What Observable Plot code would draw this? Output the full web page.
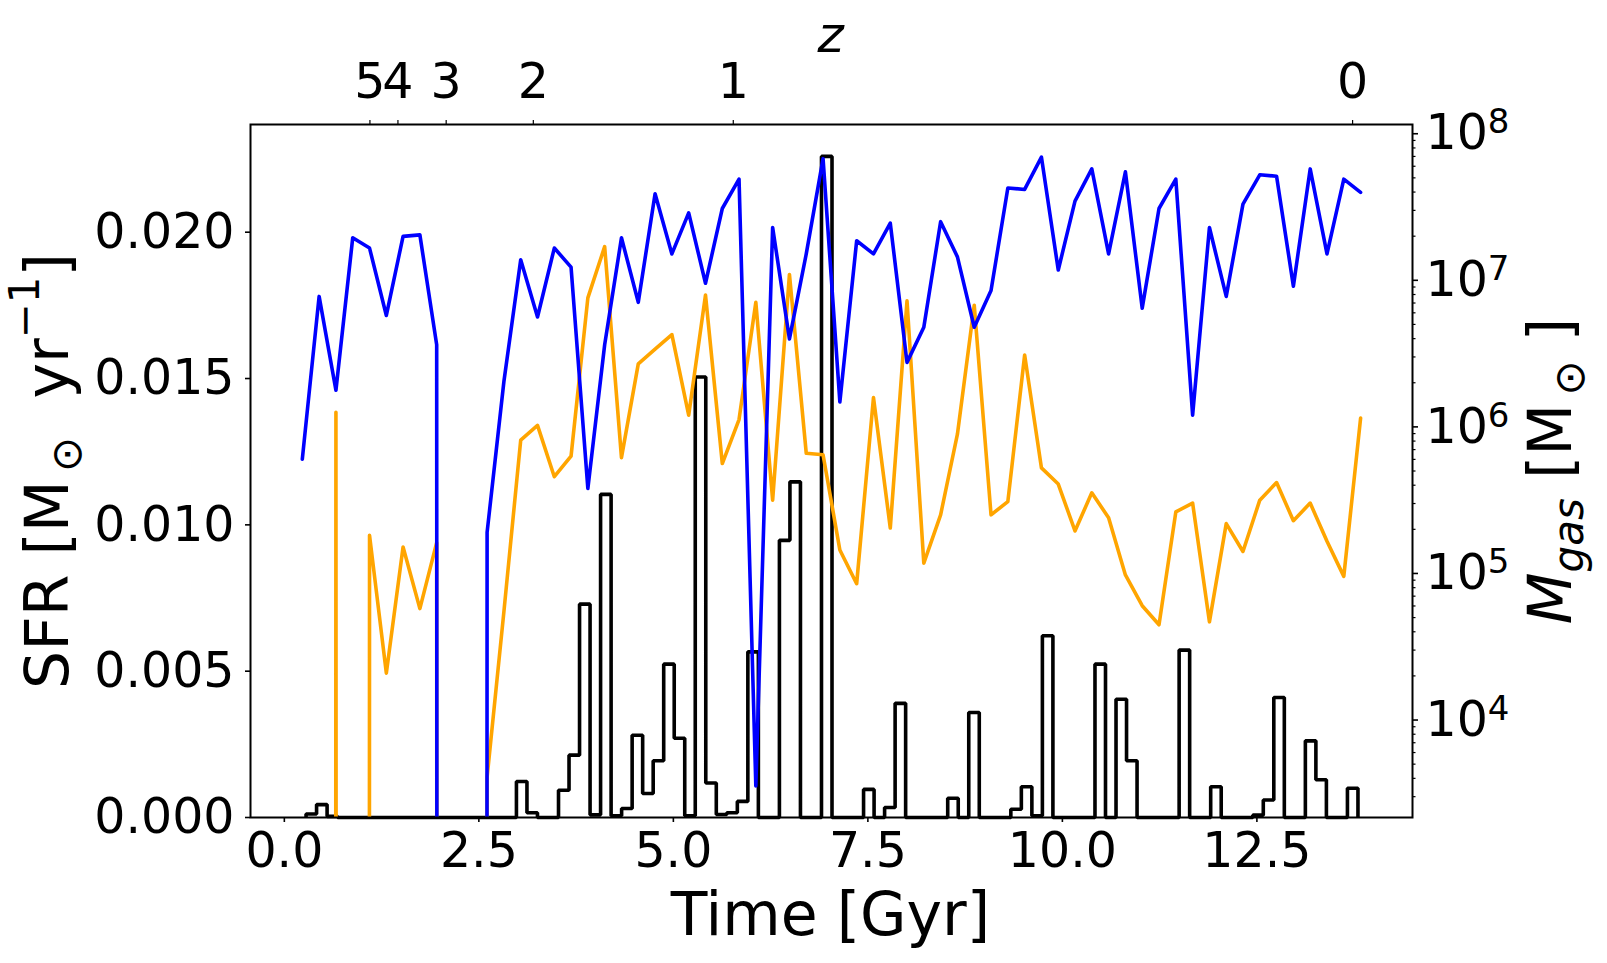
<!DOCTYPE html>
<html><head><meta charset="utf-8">
<script src="https://cdn.jsdelivr.net/npm/d3@7"></script>
<script src="https://cdn.jsdelivr.net/npm/@observablehq/plot@0.6"></script>
<style>
body{margin:0;background:#fff;}
#chart{position:relative;width:1607px;height:963px;font-family:"DejaVu Sans";}
#chart svg{position:absolute;left:0;top:0;overflow:visible;}
</style></head><body><div id="chart"></div>
<script>
// ---------- data ----------
const gasTime = [0.231,0.447,0.663,0.879,1.095,1.311,1.526,1.742,1.958,2.174,
  2.390,2.606,2.822,3.038,3.254,3.470,3.685,3.901,4.117,4.333,
  4.549,4.765,4.981,5.197,5.413,5.629,5.844,6.060,6.276,6.492,
  6.708,6.924,7.140,7.356,7.572,7.788,8.003,8.219,8.435,8.651,
  8.867,9.083,9.299,9.515,9.731,9.947,10.162,10.378,10.594,10.810,
  11.026,11.242,11.458,11.674,11.890,12.106,12.321,12.537,12.753,12.969,
  13.185,13.401,13.617,13.833];
// log10(M_gas / Msun); null = no gas
const gasLogBlue = [5.78,6.89,6.25,7.29,7.22,6.76,7.30,7.31,6.56,null,
  null,5.28,6.31,7.14,6.75,7.22,7.09,5.58,6.56,7.29,
  6.85,7.59,7.18,7.46,6.98,7.49,7.69,3.55,7.36,6.60,
  7.18,7.83,6.17,7.27,7.18,7.39,6.44,6.68,7.40,7.16,
  6.68,6.93,7.63,7.62,7.84,7.07,7.54,7.76,7.18,7.74,
  6.81,7.49,7.69,6.08,7.36,6.89,7.52,7.72,7.71,6.96,
  7.76,7.18,7.69,7.60];
const gasLogOrange = [null,null,6.10,null,5.26,4.32,5.18,4.76,5.21,null,
  null,3.61,4.74,5.91,6.01,5.66,5.80,6.88,7.23,5.79,
  6.43,6.53,6.63,6.08,6.90,5.75,6.05,6.85,5.50,7.04,
  5.82,5.81,5.16,4.93,6.20,5.31,6.86,5.07,5.40,5.95,
  6.83,5.40,5.49,6.49,5.72,5.61,5.29,5.55,5.38,4.99,
  4.78,4.65,5.42,5.48,4.67,5.34,5.15,5.50,5.62,5.36,
  5.48,5.22,4.98,6.06];
// SFR histogram (Msun/yr), 100 bins
const sfrBinStart = 0.279, sfrBinWidth = 0.1352;
const sfrValues = [0.00012,0.00044,0.00004,0,0,0,0,0,0,0,
  0,0,0,0,0,0,0,0,0,0,
  0.00123,0.00016,0,0,0.00093,0.00213,0.00729,0.00009,0.01104,0.00006,
  0.00031,0.00281,0.00082,0.00194,0.00524,0.00271,0.00006,0.01505,0.00118,0.00010,
  0.00016,0.00055,0.00566,0,0,0.00947,0.01147,0,0,0.02259,
  0,0,0,0.00096,0,0.00034,0.00390,0,0,0,
  0,0.00066,0,0.00359,0,0,0,0.00028,0.00105,0.00006,
  0.00621,0,0,0,0,0.00524,0,0.00404,0.00194,0,
  0,0,0,0.00572,0,0,0.00105,0,0,0,
  0.00008,0.00060,0.00410,0,0,0.00262,0.00129,0,0,0.00100];
const sfrTicks = [0, 0.005, 0.010, 0.015, 0.020];
const timeTicks = [0, 2.5, 5, 7.5, 10, 12.5];
const gasTicks = [1e4, 1e5, 1e6, 1e7, 1e8];
const zLabels = ["5","4","3","2","1","0"];
const zTimes = [1.10, 1.46, 2.08, 3.20, 5.77, 13.73];

// ---------- layout ----------
const W = 1607, H = 963;
const margins = {marginLeft: 250, marginRight: 195, marginTop: 124, marginBottom: 146};
const xDomain = [-0.435, 14.5];
const sfrDomain = [0, 0.02368];
const gasDomain = [Math.pow(10, 3.335), Math.pow(10, 8.063)];
const FONT = '"DejaVu Sans", sans-serif';

const edges = sfrValues.map((_, k) => sfrBinStart + k * sfrBinWidth);
edges.push(sfrBinStart + sfrValues.length * sfrBinWidth);
const last = sfrValues.length - 1;
const histPts = [{t: edges[0], v: 0}]
  .concat(sfrValues.map((v, k) => ({t: edges[k], v})))
  .concat([{t: edges[last + 1], v: sfrValues[last]}, {t: edges[last + 1], v: 0}]);

const toMass = l => (l == null ? 1e-300 : Math.pow(10, l)); // clip non-positive like matplotlib
const blue = gasTime.map((t, i) => ({t, m: toMass(gasLogBlue[i])}));
const orange = gasTime.map((t, i) => ({t, m: toMass(gasLogOrange[i])}));

const minorTicks = [];
for (let e = 3; e < 8; e++) for (let k = 2; k < 10; k++) {
  const v = k * Math.pow(10, e);
  if (v >= gasDomain[0] && v <= gasDomain[1]) minorTicks.push(v);
}
const zMap = new Map(zTimes.map((t, i) => [t, zLabels[i]]));
const baseStyle = {fontFamily: FONT, fontSize: "48px", color: "#000", background: "transparent", overflow: "visible"};

// ---------- left axes: SFR histogram ----------
const p1 = Plot.plot({
  width: W, height: H, ...margins,
  style: baseStyle,
  x: {type: "linear", domain: xDomain},
  y: {type: "linear", domain: sfrDomain},
  marks: [
    Plot.line(histPts, {x: "t", y: "v", curve: "step-after", stroke: "#000", strokeWidth: 3.6,
      strokeLinejoin: "miter", strokeLinecap: "butt"}),
    Plot.axisY({ticks: sfrTicks, anchor: "left", tickSize: 5, tickPadding: 11,
      tickFormat: d3.format(".3f"), label: null, strokeWidth: 1.6, fontSize: 49}),
    Plot.axisX({ticks: timeTicks, anchor: "bottom", tickSize: 5, tickPadding: 10,
      tickFormat: d3.format(".1f"), label: null, strokeWidth: 1.6, fontSize: 49})
  ]
});

// ---------- right axes: gas mass (log) + top redshift axis ----------
const p2 = Plot.plot({
  width: W, height: H, ...margins,
  style: baseStyle,
  x: {type: "linear", domain: xDomain},
  y: {type: "log", domain: gasDomain},
  marks: [
    Plot.line(orange, {x: "t", y: "m", stroke: "#ffa500", strokeWidth: 3.6, clip: true}),
    Plot.line(blue, {x: "t", y: "m", stroke: "#0000ff", strokeWidth: 3.6, clip: true}),
    Plot.frame({stroke: "#000", strokeWidth: 2}),
    Plot.axisY({ticks: minorTicks, anchor: "right", tickSize: 2.5, tickFormat: () => "",
      label: null, strokeWidth: 1.2}),
    Plot.axisY({ticks: gasTicks, anchor: "right", tickSize: 5, tickPadding: 8,
      tickFormat: d => "10^" + Math.round(Math.log10(d)), label: null, strokeWidth: 1.6, fontSize: 49}),
    Plot.axisX({ticks: zTimes, anchor: "top", tickSize: 5, tickPadding: 22,
      tickFormat: d => zMap.get(d), label: null, strokeWidth: 1.2, fontSize: 49})
  ]
});

const chart = document.getElementById("chart");
chart.appendChild(p1);
chart.appendChild(p2);

// superscripts in log tick labels (10^8 -> 10 with raised 8)
d3.select(p2).selectAll("text").each(function() {
  const s = this.textContent;
  const m = /^10\^(\d+)$/.exec(s);
  if (!m) return;
  const t = d3.select(this);
  t.text("10");
  t.append("tspan").attr("dy", "-16px").attr("font-size", "34px").text(m[1]);
});

// ---------- axis titles ----------
const svg = d3.select(p2);
const g = svg.append("g").attr("font-family", FONT).attr("fill", "#000");
g.append("text").attr("x", 830.5).attr("y", 52).attr("text-anchor", "middle")
  .attr("font-size", "50px").attr("font-style", "italic").text("z");
g.append("text").attr("x", 830.5).attr("y", 935).attr("text-anchor", "middle")
  .attr("font-size", "60px").text("Time [Gyr]");

const yl = g.append("text").attr("transform", "translate(68,471) rotate(-90)")
  .attr("text-anchor", "middle").attr("font-size", "60px");
yl.append("tspan").text("SFR [M");
yl.append("tspan").attr("font-size", "42px").attr("dy", "13px").text("\u2009\u2299");
yl.append("tspan").attr("dy", "-13px").text("  yr");
yl.append("tspan").attr("font-size", "42px").attr("dy", "-29px").text("\u22121");
yl.append("tspan").attr("dy", "29px").text("]");

const yr = g.append("text").attr("transform", "translate(1571,471) rotate(-90)")
  .attr("text-anchor", "middle").attr("font-size", "60px");
yr.append("tspan").attr("font-style", "italic").text("M");
yr.append("tspan").attr("font-style", "italic").attr("font-size", "42px").attr("dy", "12px").text("gas");
yr.append("tspan").attr("dy", "-12px").text(" [M");
yr.append("tspan").attr("font-size", "42px").attr("dy", "13px").text("\u2009\u2299");
yr.append("tspan").attr("dy", "-13px").text(" ]");
</script></body></html>
